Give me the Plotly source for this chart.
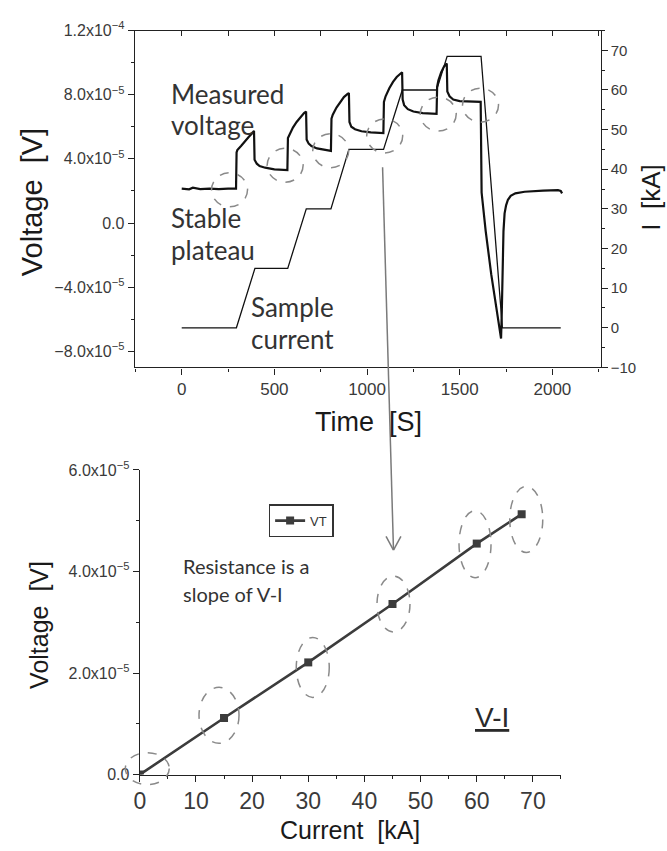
import numpy as np
import plotly.graph_objects as go

W, H = 667, 851

# ---------------- data: top chart (time traces) ----------------
t_meas = [0, 40, 60, 100, 150, 200, 250, 293,
          296, 300, 320, 340, 360, 380, 390,
          393, 405, 420, 450, 500, 540, 570,
          573, 580, 600, 620, 640, 660, 671,
          674, 685, 700, 730, 770, 805,
          808, 815, 835, 855, 875, 895, 902,
          905, 915, 935, 970, 1020, 1088,
          1091, 1100, 1120, 1140, 1160, 1180, 1189,
          1192, 1200, 1220, 1250, 1300, 1375,
          1378, 1385, 1400, 1415, 1430,
          1433, 1445, 1465, 1500, 1560, 1613,
          1618, 1640, 1670, 1700, 1723,
          1727, 1731, 1736, 1742, 1750, 1760, 1775, 1800, 1850, 1950, 2030, 2045, 2052]
v_meas_e5 = [2.15, 2.1, 2.2, 2.12, 2.15, 2.12, 2.15, 2.15,
             4.4, 4.55, 4.8, 5.1, 5.35, 5.6, 5.75,
             3.95, 3.7, 3.55, 3.45, 3.35, 3.3, 3.3,
             5.3, 5.5, 5.95, 6.3, 6.6, 6.85, 6.95,
             5.2, 4.95, 4.8, 4.65, 4.55, 4.5,
             6.5, 6.75, 7.2, 7.55, 7.85, 8.05, 8.1,
             6.3, 6.0, 5.85, 5.72, 5.65, 5.6,
             7.55, 7.9, 8.4, 8.8, 9.1, 9.3, 9.4,
             7.7, 7.35, 7.1, 6.95, 6.85, 6.8,
             8.5, 8.9, 9.4, 9.75, 9.95,
             8.2, 7.9, 7.7, 7.6, 7.55, 7.55,
             1.9, -0.5, -3.2, -5.4, -7.2,
             -5.5, -2.5, -0.5, 0.6, 1.1, 1.45, 1.7, 1.85, 1.95, 2.02, 2.05, 2.0, 1.85]

t_cur = [0, 295, 395, 572, 672, 805, 902, 1089, 1190, 1375, 1432, 1615, 1730, 2045]
i_cur_ka = [0, 0, 15, 15, 30, 30, 45, 45, 60, 60, 68.5, 68.5, 0, 0]

# plateau markers (time, voltage e-5) for dashed circles
plateau_t = [258, 558, 804, 1095, 1384, 1612]
plateau_v_e5 = [2.07, 3.6, 4.51, 5.43, 6.79, 7.35]

# ---------------- data: bottom chart (V-I) ----------------
vi_current = [0, 15, 30, 45, 60, 68]
vi_voltage_e5 = [0, 1.115, 2.21, 3.36, 4.55, 5.13]

# tick labels
top_v_ticks = [-8e-5, -4e-5, 0, 4e-5, 8e-5, 1.2e-4]
top_v_text = ["\u22128.0x10<sup>\u22125</sup>", "\u22124.0x10<sup>\u22125</sup>", "0.0",
              "4.0x10<sup>\u22125</sup>", "8.0x10<sup>\u22125</sup>", "1.2x10<sup>\u22124</sup>"]
time_ticks = [0, 500, 1000, 1500, 2000]
ka_ticks = [-10, 0, 10, 20, 30, 40, 50, 60, 70]
bot_v_ticks = [0, 2e-5, 4e-5, 6e-5]
bot_v_text = ["0.0", "2.0x10<sup>\u22125</sup>", "4.0x10<sup>\u22125</sup>", "6.0x10<sup>\u22125</sup>"]
cur_ticks = [0, 10, 20, 30, 40, 50, 60, 70]

v_meas = np.array(v_meas_e5) * 1e-5
plateau_v = np.array(plateau_v_e5) * 1e-5
vi_voltage = np.array(vi_voltage_e5) * 1e-5

def px(x):
    return x / W

def py(y):
    return 1 - y / H

# bottom panel frame (pixels) and ranges
BX0, BX1, BY0, BY1 = 135, 560, 782, 470
BXR = [0, 75]
BYR = [0, 6e-5]

INK = "#222222"
TXT = "#333333"
REG = "Liberation Sans, Arial, sans-serif"

fig = go.Figure()

fig.add_trace(go.Scatter(x=t_meas, y=v_meas, mode="lines", xaxis="x", yaxis="y",
                         line=dict(color="#111111", width=2.2), showlegend=False))
fig.add_trace(go.Scatter(x=t_cur, y=i_cur_ka, mode="lines", xaxis="x", yaxis="y2",
                         line=dict(color="#111111", width=1.3), showlegend=False))
fig.add_trace(go.Scatter(x=[None], y=[None], xaxis="x3", yaxis="y", showlegend=False))

fig.add_trace(go.Scatter(x=vi_current, y=vi_voltage, mode="lines+markers", name="VT",
                         xaxis="x2", yaxis="y3",
                         line=dict(color="#3c3c3c", width=2.6),
                         marker=dict(symbol="square", size=8, color="#3c3c3c")))

xr_top = [-253, 2260]
common = dict(showgrid=False, zeroline=False, showline=True, linecolor=INK, linewidth=1.3,
              tickcolor=INK, ticks="outside")

def minor(d):
    return dict(tickmode="linear", tick0=0, dtick=d, ticklen=3, ticks="outside", tickcolor=INK)

fig.update_layout(
    width=W, height=H,
    margin=dict(l=0, r=0, t=0, b=0),
    paper_bgcolor="white", plot_bgcolor="white",
    xaxis=dict(domain=[px(130), px(600)], range=xr_top, anchor="y",
               tickmode="array", tickvals=time_ticks, ticklen=6,
               tickfont=dict(size=17, family=REG, color="#3a3a3a"),
               minor=minor(250), **common),
    xaxis3=dict(overlaying="x", side="top", anchor="y", range=xr_top,
                showgrid=False, zeroline=False, showline=True, linecolor=INK, linewidth=1.3,
                tickmode="linear", tick0=0, dtick=250, ticks="inside", ticklen=5,
                tickcolor=INK, showticklabels=False),
    yaxis=dict(domain=[py(365), py(20)], range=[-9e-5, 1.2e-4], anchor="x",
               tickmode="array", tickvals=top_v_ticks, ticktext=top_v_text, ticklen=6,
               tickfont=dict(size=16, family=REG, color="#3a3a3a"),
               minor=minor(2e-5), **common),
    yaxis2=dict(overlaying="y", side="right", anchor="x", range=[-10, 75],
                tickmode="array", tickvals=ka_ticks, ticklen=6,
                tickfont=dict(size=15, family=REG, color="#3a3a3a"),
                minor=minor(5), **common),
    xaxis2=dict(domain=[px(BX0), px(BX1)], range=BXR, anchor="y3",
                tickmode="array", tickvals=cur_ticks, ticklen=6,
                tickfont=dict(size=23, family=REG, color="#3a3a3a"),
                minor=minor(5), **common),
    yaxis3=dict(domain=[py(BY0), py(BY1)], range=BYR, anchor="x2",
                tickmode="array", tickvals=bot_v_ticks, ticktext=bot_v_text, ticklen=6,
                tickfont=dict(size=16, family=REG, color="#3a3a3a"),
                minor=minor(1e-5), **common),
    legend=dict(x=px(265), y=py(505), xanchor="left", yanchor="top",
                bordercolor="#333333", borderwidth=1.5, bgcolor="white",
                font=dict(family=REG, size=13, color="#333"),
                itemwidth=30, tracegroupgap=0),
)

# dashed circles on top chart
for t, v in zip(plateau_t, plateau_v):
    fig.add_shape(type="circle", xref="x", yref="y", xsizemode="pixel", ysizemode="pixel",
                  xanchor=t, yanchor=v, x0=-18, x1=18, y0=-17, y1=17,
                  line=dict(color="#8a8a8a", width=1.5, dash="dash"))

# dashed ellipses on V-I chart (paper-anchored so they are not clipped)
ell_dx = [7.5, -5, 4.5, 1, -1.7, 4.6]
ell_dy = [6, 2.7, -5, 0, -0.6, -5.3]
ell_rx = [22, 20, 16.5, 16.5, 16, 16.5]
ell_ry = [16, 28, 30, 28, 33.5, 33]
for xv, yv, dx, dy, rx, ry in zip(vi_current, vi_voltage, ell_dx, ell_dy, ell_rx, ell_ry):
    ax = px(BX0 + (xv - BXR[0]) / (BXR[1] - BXR[0]) * (BX1 - BX0))
    ay = py(BY0 - (yv - BYR[0]) / (BYR[1] - BYR[0]) * (BY0 - BY1))
    fig.add_shape(type="circle", xref="paper", yref="paper", xsizemode="pixel", ysizemode="pixel",
                  xanchor=ax, yanchor=ay, x0=dx - rx, x1=dx + rx, y0=dy - ry, y1=dy + ry,
                  line=dict(color="#8a8a8a", width=1.5, dash="dash"))

# connecting arrow (decoration)
AR = "#7a7a7a"
fig.add_shape(type="line", xref="paper", yref="paper", x0=px(380), y0=py(160),
              x1=px(391), y1=py(552), line=dict(color=AR, width=1.5))
fig.add_shape(type="line", xref="paper", yref="paper", x0=px(383.5), y0=py(538),
              x1=px(391), y1=py(552), line=dict(color=AR, width=1.5))
fig.add_shape(type="line", xref="paper", yref="paper", x0=px(398.5), y0=py(538),
              x1=px(391), y1=py(552), line=dict(color=AR, width=1.5))

def note(text, x, y, size, family="Lato, sans-serif", color=TXT, angle=0, xanchor="left"):
    fig.add_annotation(text=text, xref="paper", yref="paper", x=px(x), y=py(y),
                       xanchor=xanchor, yanchor="middle", showarrow=False, textangle=angle,
                       font=dict(family=family, size=size, color=color))

# axis titles
note("Voltage  [V]", 27, 196, 29, family=REG, color="#1a1a1a", angle=-90, xanchor="center")
note("I  [kA]", 650, 191, 26, family=REG, color="#1a1a1a", angle=-90, xanchor="center")
note("Time  [S]", 366, 421, 27, family=REG, color="#1a1a1a", xanchor="center")
note("Voltage  [V]", 34, 629, 25, family=REG, color="#1a1a1a", angle=-90, xanchor="center")
note("Current  [kA]", 347, 839, 25, family=REG, color="#1a1a1a", xanchor="center")

# text notes
note("Measured", 164, 85, 26)
note("voltage", 164, 117, 26)
note("Stable", 164, 212, 26)
note("plateau", 164, 245, 26)
note("Sample", 245, 303, 26)
note("current", 245, 336, 26)
note("Resistance is a", 177, 568, 20)
note("slope of V-I", 177, 597, 20)
note("<u>V-I</u>", 490, 724, 28, family=REG, color="#2a2a2a", xanchor="center")

fig.write_html("out.html")
